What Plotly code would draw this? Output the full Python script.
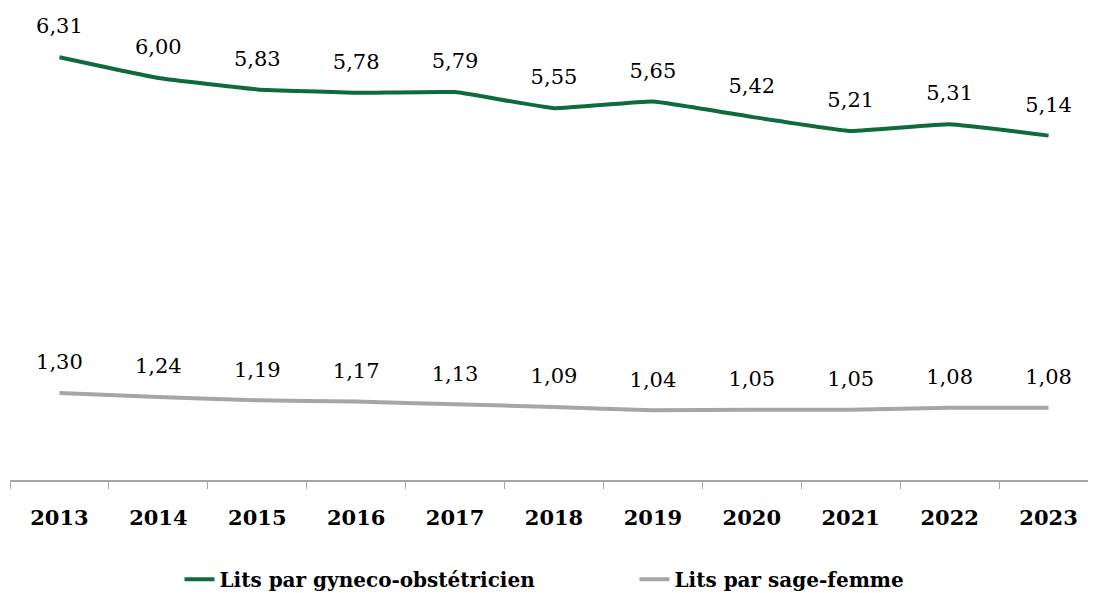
import plotly.graph_objects as go

years = ["2013", "2014", "2015", "2016", "2017", "2018", "2019", "2020", "2021", "2022", "2023"]
gyneco = [6.31, 6.00, 5.83, 5.78, 5.79, 5.55, 5.65, 5.42, 5.21, 5.31, 5.14]
sage_femme = [1.30, 1.24, 1.19, 1.17, 1.13, 1.09, 1.04, 1.05, 1.05, 1.08, 1.08]

GREEN = "#0F6B3B"
GREY = "#A6A6A6"
FONT = "DejaVu Serif"

def fmt(v):
    return f"{v:.2f}".replace(".", ",")

fig = go.Figure()
fig.add_trace(go.Scatter(x=years, y=gyneco, mode="lines", name="Lits par gyneco-obstétricien",
                         line=dict(color=GREEN, width=4, shape="spline", smoothing=0.3)))
fig.add_trace(go.Scatter(x=years, y=sage_femme, mode="lines", name="Lits par sage-femme",
                         line=dict(color=GREY, width=4, shape="spline", smoothing=0.3)))

for series in (gyneco, sage_femme):
    fig.add_trace(go.Scatter(x=years, y=series, mode="markers+text", showlegend=False,
                             text=[fmt(v) for v in series], textposition="top center",
                             marker=dict(size=28, color="rgba(0,0,0,0)"),
                             textfont=dict(family=FONT, size=21, color="#000000"),
                             hoverinfo="skip"))

# page body has an 8px margin; margins below compensate for it
fig.update_layout(
    width=1096, height=593,
    margin=dict(l=2, r=6, t=3, b=121, autoexpand=False),
    paper_bgcolor="white", plot_bgcolor="white",
    showlegend=True,
    legend=dict(orientation="h", x=0.574, xanchor="center", y=-0.2115, yanchor="middle",
                font=dict(family=FONT, size=20, color="#000000", weight="bold"),
                entrywidth=410, entrywidthmode="pixels"),
    font=dict(family=FONT),
)
fig.update_xaxes(type="category", range=[-0.5, 10.5], showline=True, linecolor="#A6A6A6", linewidth=1.5,
                 ticks="outside", tickson="boundaries", ticklen=7, tickcolor="#A6A6A6",
                 showgrid=False, tickangle=0, automargin=False, ticklabelstandoff=18,
                 tickfont=dict(family=FONT, size=21, color="#000000", weight="bold"))
fig.update_yaxes(range=[0, 7], visible=False, showgrid=False, zeroline=False, automargin=False)

fig.write_html("out.html")
